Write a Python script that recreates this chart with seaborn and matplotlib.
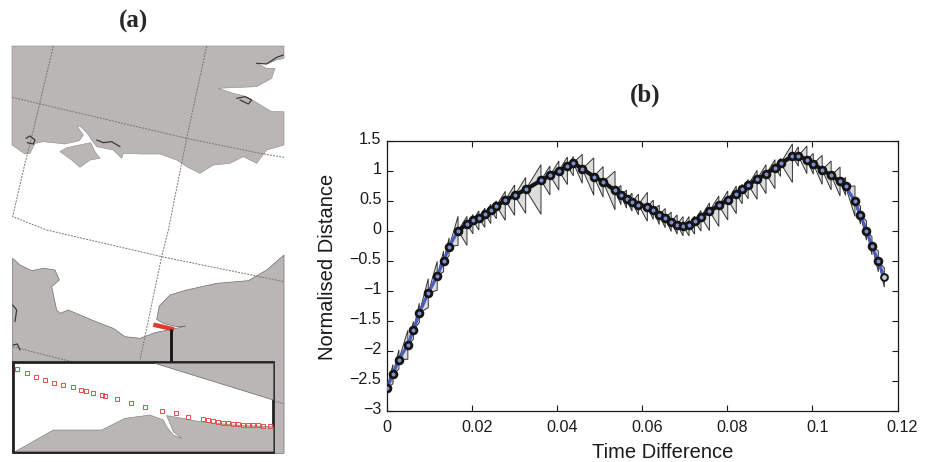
import numpy as np
import pandas as pd
import seaborn as sns
import matplotlib.pyplot as plt
from matplotlib.transforms import ScaledTranslation

# -----------------------------
# Panel (b) values
# -----------------------------
time_diff = [0, .0014, .0028, .0049, .0062, .0076, .0097, .0118, .0133, .0146, .0167, .0188,
             .0202, .0216, .0230, .0244, .0257, .0278, .0300, .0326, .0362, .0383, .0404, .0424,
             .0438, .0459, .0486, .0508, .0536, .0550, .0563, .0576, .0591, .0612, .0626, .0640,
             .0654, .0668, .0682, .0696, .0710, .0723, .0738, .0758, .0780, .0801, .0821, .0835,
             .0849, .0870, .0891, .0912, .0925, .0953, .0967, .0987, .1002, .1023, .1044, .1065,
             .1078, .1100, .1113, .1127, .1140, .1155, .1169]
norm_dist = [-2.628, -2.394, -2.150, -1.905, -1.666, -1.372, -1.044, -.755, -.516, -.272, -.005, .106,
             .167, .211, .278, .345, .411, .506, .584, .684, .834, .917, .995, 1.072,
             1.128, 1.028, .900, .811, .667, .589, .522, .472, .433, .395, .345, .261,
             .206, .145, .100, .072, .089, .161, .228, .322, .417, .511, .606, .689,
             .761, .856, .939, 1.050, 1.122, 1.234, 1.245, 1.178, 1.111, 1.011, .917, .817,
             .734, .489, .256, .000, -.255, -.516, -.783]
x_ticks = [0, 0.02, 0.04, 0.06, 0.08, 0.1, 0.12]
x_labels = ["0", "0.02", "0.04", "0.06", "0.08", "0.1", "0.12"]
y_ticks = [-3, -2.5, -2, -1.5, -1, -0.5, 0, 0.5, 1, 1.5]
y_labels = ["\u22123", "\u22122.5", "\u22122", "\u22121.5", "\u22121", "\u22120.5", "0", "0.5", "1", "1.5"]

# -----------------------------
# Panel (a) map outlines (map units, 3 per pixel)
# -----------------------------
north_x = [36, 852, 852, 830, 805, 770, 800, 825, 815, 770, 720, 655, 700, 740, 790, 815, 852, 852,
           800, 770, 730, 690, 640, 600, 560, 530, 480, 430, 370, 365, 340, 290, 275, 262, 240, 232, 250,
           238, 195, 130, 105, 90, 75, 36]
north_y = [138, 138, 175, 180, 190, 190, 205, 205, 235, 260, 262, 265, 280, 290, 320, 335, 335, 435,
           450, 490, 470, 490, 495, 520, 500, 480, 462, 462, 460, 475, 450, 440, 420, 400, 378, 380, 405,
           422, 432, 425, 430, 460, 462, 435]
wight_x = [180, 200, 272, 285, 300, 270, 240, 215]
wight_y = [455, 443, 428, 455, 475, 480, 502, 480]
south_x = [38, 60, 95, 130, 165, 178, 155, 170, 180, 205, 240, 300, 340, 375, 420, 465, 515, 558, 530,
           490, 470, 478, 510, 560, 650, 745, 800, 852, 852, 38]
south_y = np.array([85, 105, 122, 115, 120, 150, 170, 240, 250, 240, 255, 280, 295, 320, 325, 308, 298,
                    288, 290, 280, 268, 228, 195, 180, 160, 152, 120, 75, 670, 670]) + 690
inset_land_x = [45, 160, 305, 375, 450, 490, 500, 520, 545, 520, 500, 520, 600, 700, 820, 820]
inset_land_y = np.array([665, 600, 600, 565, 555, 570, 590, 615, 625, 605, 557, 560, 575, 585, 590, 665]) + 690
inset_shore_x = [465, 820, 820]
inset_shore_y = np.array([400, 510, 400]) + 690
grid_lines = [
    ([160, 100, 75, 38, 140], [138, 390, 490, 650, 690]),
    ([620, 560, 505, 485, 420], [138, 415, 690, 770, 1080]),
    ([36, 560, 780, 852], [292, 415, 460, 472]),
    ([140, 485, 852], [690, 770, 845]),
    ([38, 215], [1040, 1085]),
    ([465, 852], [1090, 1212]),
]
marsh_lines = [
    ([78, 90, 105, 100, 82], [415, 408, 420, 432, 428]),
    ([290, 310, 335, 360], [420, 428, 425, 440]),
    ([710, 735, 755, 745, 720], [295, 290, 300, 312, 300]),
    ([770, 800, 830, 850], [190, 192, 172, 165]),
    ([38, 50, 45], [915, 930, 965]),
    ([40, 52, 60], [1035, 1032, 1050]),
]
track_x = [460, 522]
track_y = [974, 988]
inset_pts_x = [52, 82, 108, 135, 163, 190, 220, 243, 258, 278, 305, 315, 350, 393, 435, 485, 528, 565,
               610, 625, 640, 655, 670, 685, 700, 715, 730, 745, 760, 775, 790, 810]
inset_pts_y = np.array([418, 428, 440, 450, 460, 465, 472, 480, 482, 488, 495, 497, 507, 520, 530, 542, 550,
                        560, 568, 570, 572, 575, 578, 580, 582, 583, 584, 584, 585, 586, 587, 588]) + 690

sns.set_theme(style="ticks")
plt.rcParams["font.family"] = ["Liberation Sans", "DejaVu Sans"]
land = "#b9b6b5"
ink = "#1a1a1a"

fig = plt.figure(figsize=(9.25, 4.62), dpi=100)

# -----------------------------
# 1. Map panel
# -----------------------------
ax_map = fig.add_axes([0, 0, 1, 1])
ax_map.set_xlim(0, 2775)
ax_map.set_ylim(1386, 0)
ax_map.axis("off")
ax_map.fill(north_x, north_y, color=land, ec="#8a8786", lw=0.4, zorder=1)
ax_map.fill(wight_x, wight_y, color=land, ec="#8a8786", lw=0.4, zorder=1)
ax_map.fill(south_x, south_y, color=land, ec="#6f6c6b", lw=0.5, zorder=1)
for gx, gy in grid_lines:
    ax_map.plot(gx, gy, color="#77757a", lw=0.7, ls=(0, (2, 1.2)), zorder=2)
for mx, my in marsh_lines:
    ax_map.plot(mx, my, color="#3a3a3a", lw=0.9, zorder=2)
ax_map.plot(track_x, track_y, color="#e23a2c", lw=3.2, solid_capstyle="butt", zorder=3)
ax_map.plot([513, 513], [990, 1085], color="#111111", lw=2, zorder=3)
ax_map.add_patch(plt.Rectangle((40, 1085), 780, 272, fc="white", ec="#222222", lw=2, zorder=4))
ax_map.fill(inset_land_x, inset_land_y, color=land, ec="#777777", lw=0.4, zorder=5)
ax_map.fill(inset_shore_x, inset_shore_y, color=land, ec="#666666", lw=0.5, zorder=5)
ax_map.scatter(inset_pts_x, inset_pts_y, marker="s", s=7, fc="none", ec="#e0524a", lw=0.7, zorder=6)
ax_map.text(400, 63, "(a)", family="Liberation Serif", weight="bold", fontsize=18, ha="center", va="center")

# -----------------------------
# 2. Normalised distance panel
# -----------------------------
ax = fig.add_axes([387 / 925, 1 - 410.5 / 462, 510.5 / 925, 270 / 462])
df = pd.DataFrame({"t": time_diff, "d": norm_dist})

# cone drawn from each point back to the previous one
cone_k = 115
for i in range(1, len(df)):
    t0, t1 = df.t[i - 1], df.t[i]
    d0, d1 = df.d[i - 1], df.d[i]
    slope = (d1 - d0) / (t1 - t0)
    mid = d0 if 0 < slope < 71 else d1
    half = cone_k * (t1 - t0)
    ax.fill([t0, t1, t1], [d0, mid + half, mid - half], fc="#dcdcdc", ec="#333333", lw=0.7, zorder=2)

sns.lineplot(data=df, x="t", y="d", sort=False, estimator=None, color="#4a5cc0", lw=2.2, ax=ax, zorder=3)

# gentle stretches read as a black band between the circles
for i in range(1, len(df)):
    if abs((df.d[i] - df.d[i - 1]) / (df.t[i] - df.t[i - 1])) < 100:
        ax.plot(df.t[i - 1:i + 1], df.d[i - 1:i + 1], color="#141414", lw=3, zorder=3.5)

sns.scatterplot(data=df.iloc[:-1], x="t", y="d", s=24, color="#7f8fd0", edgecolor="#141414", linewidth=2,
                ax=ax, zorder=4)
sns.scatterplot(data=df.iloc[-1:], x="t", y="d", s=24, color="#c9c9d6", edgecolor="#141414", linewidth=1.4,
                ax=ax, zorder=4)

ax.set_xlim(0, 0.12)
ax.set_ylim(-3, 1.5)
ax.set_xticks(x_ticks)
ax.set_xticklabels(x_labels)
ax.set_yticks(y_ticks)
ax.set_yticklabels(y_labels)
ax.tick_params(direction="in", top=True, right=True, length=4, width=0.8, labelsize=11.6, color=ink,
               labelcolor=ink)
ax.tick_params(axis="x", pad=7)
ax.tick_params(axis="y", pad=4)
for lab in ax.get_xticklabels()[1:]:
    lab.set_transform(lab.get_transform() + ScaledTranslation(5 / 100, 0, fig.dpi_scale_trans))
for lab in ax.get_yticklabels():
    lab.set_transform(lab.get_transform() + ScaledTranslation(0, 2 / 100, fig.dpi_scale_trans))
for s in ax.spines.values():
    s.set_linewidth(0.9)
    s.set_color(ink)
ax.set_xlabel("Time Difference", fontsize=14.5, color=ink)
ax.set_ylabel("Normalised Distance", fontsize=14.5, color=ink)
ax.xaxis.set_label_coords(0.54, -0.122)
ax.yaxis.set_label_coords(-0.097, 0.531)
fig.text(645 / 925, 1 - 95 / 462, "(b)", family="Liberation Serif", weight="bold", fontsize=18,
         ha="center", va="center")

fig.savefig("out.png", dpi=100)
